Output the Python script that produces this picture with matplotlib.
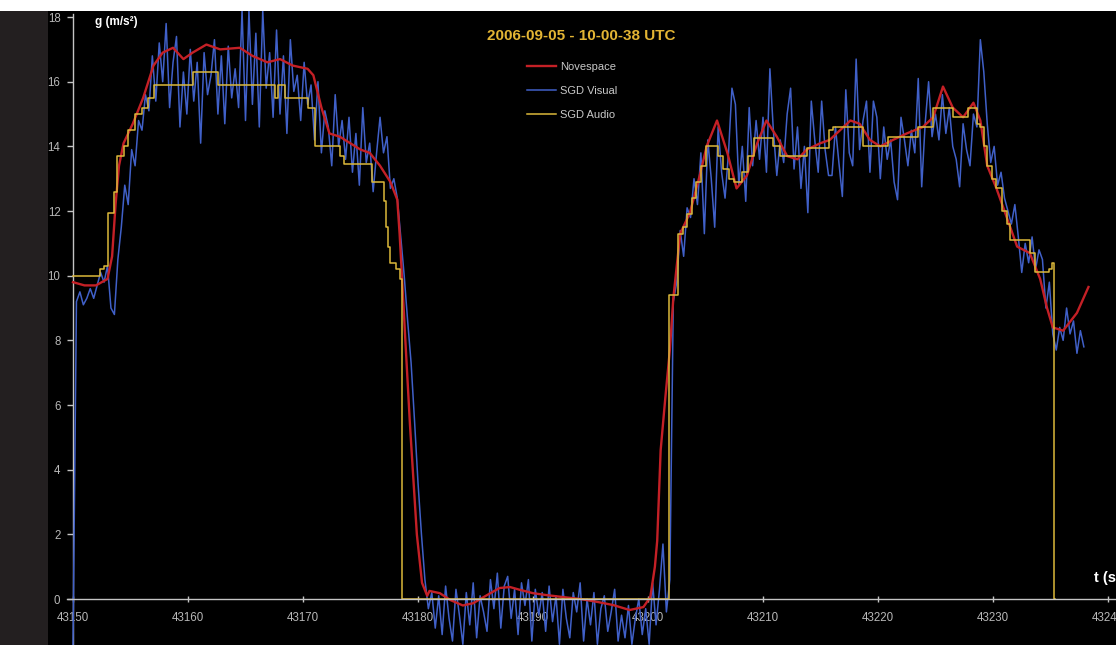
import numpy as np
import matplotlib
matplotlib.use("Agg")
import matplotlib.pyplot as plt
from matplotlib.patches import Rectangle

# ---------------- data ----------------
title_text = "2006-09-05 - 10-00-38 UTC"
series_names = ["Novespace", "SGD Visual", "SGD Audio"]
x_ticks = [43150, 43160, 43170, 43180, 43190, 43200, 43210, 43220, 43230, 43240]
y_ticks = [0, 2, 4, 6, 8, 10, 12, 14, 16, 18]

# Novespace (red)
nov_t = [43150.0, 43151.0, 43152.0, 43153.0, 43153.4, 43153.7, 43154.0, 43154.4, 43155.2, 43156.1,
         43157.0, 43157.8, 43158.7, 43159.6, 43160.4, 43161.6, 43162.8, 43164.5, 43165.6, 43166.9,
         43168.0, 43169.1, 43170.4, 43170.9, 43171.6, 43172.3, 43173.2, 43175.0, 43175.8, 43176.7,
         43177.6, 43178.2, 43178.4, 43178.6, 43178.9, 43179.3, 43179.9, 43180.35, 43180.8, 43181.0,
         43181.9, 43182.8, 43183.9, 43184.8, 43186.0, 43187.1, 43188.0, 43188.9, 43190.0, 43191.2,
         43192.6, 43194.1, 43195.6, 43197.0, 43198.4, 43199.6, 43200.2, 43200.6, 43200.8, 43201.1,
         43201.5, 43201.9, 43202.2, 43202.8, 43203.65, 43204.5, 43205.1, 43206.0, 43206.9, 43207.7,
         43208.6, 43209.5, 43210.3, 43211.2, 43212.1, 43213.0, 43213.8, 43215.0, 43215.8, 43216.7,
         43217.6, 43218.4, 43219.3, 43220.2, 43221.3, 43222.5, 43223.9, 43224.8, 43225.65, 43226.5,
         43227.4, 43228.3, 43228.9, 43229.5, 43230.3, 43231.2, 43232.1, 43233.2, 43234.1, 43234.7,
         43235.2, 43236.1, 43237.3, 43238.3]
nov_g = [9.8, 9.7, 9.7, 9.9, 10.6, 12.2, 13.4, 14.1, 14.7, 15.5,
         16.5, 16.9, 17.05, 16.7, 16.9, 17.15, 17.0, 17.05, 16.8, 16.6,
         16.7, 16.5, 16.4, 16.2, 15.2, 14.4, 14.3, 13.9, 13.8, 13.4,
         12.9, 12.35, 11.3, 10.0, 8.0, 5.4, 2.0, 0.5, 0.1, 0.25,
         0.18, -0.03, -0.2, -0.13, 0.12, 0.34, 0.37, 0.28, 0.18, 0.12,
         0.06, 0.0, -0.09, -0.19, -0.34, -0.25, 0.06, 1.0, 1.8, 4.6,
         6.2, 7.7, 9.3, 11.3, 11.95, 13.1, 14.0, 14.8, 13.8, 12.7,
         13.1, 14.1, 14.8, 14.3, 13.7, 13.6, 13.9, 14.1, 14.2, 14.5,
         14.8, 14.7, 14.2, 14.0, 14.2, 14.4, 14.6, 14.9, 15.85, 15.2,
         14.9, 15.35, 14.8, 13.4, 12.7, 11.8, 10.9, 10.7, 9.9, 9.0,
         8.4, 8.3, 8.85, 9.65]

# SGD Audio (yellow step series: time of each change, level after it)
aud_t = [43150.0, 43152.35, 43152.7, 43153.0, 43153.6, 43153.8, 43154.4, 43154.8, 43155.4, 43156.0,
         43156.5, 43157.0, 43160.4, 43162.6, 43167.6, 43167.8, 43168.4, 43170.4, 43171.0, 43173.2,
         43173.6, 43176.0, 43177.0, 43177.2, 43177.4, 43177.6, 43178.1, 43178.4, 43178.6, 43201.8,
         43202.6, 43203.0, 43203.4, 43203.8, 43204.2, 43204.6, 43205.0, 43206.1, 43206.5, 43207.0,
         43207.5, 43208.2, 43208.7, 43209.2, 43210.9, 43211.5, 43213.8, 43215.7, 43216.1, 43218.7,
         43220.9, 43223.5, 43224.8, 43226.5, 43227.8, 43228.6, 43228.9, 43229.2, 43229.5, 43229.9,
         43230.3, 43230.8, 43231.2, 43231.5, 43233.2, 43233.65, 43234.9, 43235.1, 43235.3, 43235.35]
aud_g = [10.0, 10.2, 10.3, 11.95, 12.6, 13.7, 14.0, 14.5, 15.0, 15.2,
         15.5, 15.9, 16.3, 15.9, 15.5, 15.9, 15.5, 15.2, 14.0, 13.7,
         13.45, 12.9, 12.3, 11.5, 10.9, 10.4, 10.2, 9.9, 0.0, 9.4,
         11.3, 11.5, 11.9, 12.4, 12.9, 13.4, 14.0, 13.7, 13.3, 13.0,
         12.9, 13.2, 13.7, 14.25, 14.0, 13.7, 13.95, 14.5, 14.6, 14.0,
         14.3, 14.6, 15.2, 14.9, 15.2, 14.7, 14.6, 14.0, 13.4, 13.0,
         12.7, 12.0, 11.6, 11.1, 10.7, 10.1, 10.2, 10.4, 0.0, 0.0]

# SGD Visual (blue, sampled every 0.3 s from 43150.0)
vis_t0 = 43150.0
vis_dt = 0.3
vis_g = [
    -1.4, 9.2, 9.5, 9.1, 9.3, 9.6, 9.3, 9.7, 10.1, 9.8,
    10.3, 9.0, 8.8, 10.5, 11.5, 12.8, 12.2, 13.9, 13.4, 14.8,
    14.5, 15.6, 15.1, 16.8, 15.4, 17.2, 16.0, 17.8, 15.2, 16.6,
    17.4, 14.6, 16.3, 15.0, 17.0, 15.4, 16.6, 14.1, 16.9, 15.6,
    16.2, 17.3, 15.0, 16.8, 14.7, 17.1, 15.5, 16.4, 15.2, 18.2,
    14.8, 18.2, 15.3, 17.5, 14.6, 18.2, 15.8, 16.9, 14.9, 17.6,
    15.0, 16.8, 14.4, 17.3, 15.7, 16.2, 14.8, 16.6, 15.3, 15.9,
    14.2, 16.0, 13.8, 15.1, 14.6, 13.4, 15.6, 14.0, 14.8, 13.6,
    14.9, 13.2, 14.4, 12.8, 15.2, 13.5, 14.1, 12.6, 13.8, 14.9,
    13.8, 14.3, 12.7, 13.0, 12.4, 11.2, 10.0, 8.6, 7.3, 5.5,
    3.6, 2.0, 0.6, -0.3, 0.2, -0.9, 0.1, -1.1, 0.4, -0.6,
    -1.3, 0.3, -0.5, -1.4, 0.2, -0.8, 0.5, -1.2, 0.1, -0.4,
    -1.0, 0.6, -0.3, 0.8, -0.9, 0.4, 0.7, -0.6, 0.3, -1.1,
    0.5, -0.2, 0.6, -1.3, 0.3, -0.5, 0.2, -1.0, 0.4, -0.7,
    0.1, -1.4, 0.3, -0.6, -1.2, 0.2, -0.4, 0.5, -1.3, 0.0,
    -0.8, 0.2, -1.4, -0.3, 0.1, -1.0, -0.4, 0.3, -1.3, -0.5,
    -1.2, -0.2, -1.4, -0.6, 0.0, -1.1, -0.3, -1.4, 0.5, -0.8,
    0.3, 1.7, -0.4, 0.6, 9.2, 9.8, 11.4, 10.6, 12.1, 11.8,
    13.0, 12.2, 13.8, 11.3, 14.2, 13.0, 11.5, 14.6, 13.2, 12.4,
    13.8, 15.8, 15.3, 12.8, 14.0, 12.3, 15.2, 13.4, 14.8, 13.6,
    14.9, 13.2, 16.4, 14.5, 13.1, 14.2, 13.5, 15.0, 15.8, 13.3,
    14.6, 12.7, 14.0, 11.95, 15.4, 14.2, 13.2, 15.4, 13.9, 13.1,
    13.1, 14.6, 13.5, 12.45, 15.75, 13.8, 13.4, 16.7, 13.9, 14.8,
    15.4, 13.2, 15.4, 14.9, 13.0, 14.6, 13.6, 14.2, 12.9, 12.35,
    14.9, 14.2, 13.4, 14.5, 13.8, 16.1, 12.75, 14.7, 16.0, 14.3,
    15.0, 14.2, 15.6, 14.4, 15.2, 14.0, 13.6, 12.75, 14.7, 13.9,
    13.4, 15.0, 14.6, 17.3, 16.3, 14.7, 13.5, 14.0, 12.8, 13.2,
    12.4, 12.0, 11.6, 12.2, 11.2, 10.1, 11.0, 10.4, 11.2, 10.2,
    10.8, 10.5, 9.0, 9.8, 8.2, 7.7, 8.4, 8.0, 9.0, 8.2,
    8.6, 7.6, 8.3, 7.8,
]

# ---------------- style / layout ----------------
W, H = 1116, 645
PX_PER_S = 11.5      # horizontal pixels per second
PX_PER_G = 32.33     # vertical pixels per m/s^2
X0_PX, Y0_PX = 73, 599   # pixel position of (43150, 0)
AX_L, AX_T = 48, 11      # black plot area left / top pixels

C_RED = "#c42026"
C_BLUE = "#4060c8"
C_YEL = "#dcb93a"
C_AXIS = "#c4c4c4"
C_TXT = "#b8b8b8"

plt.rcParams["font.family"] = ["Liberation Sans", "DejaVu Sans"]

fig = plt.figure(figsize=(W / 100, H / 100), dpi=100, facecolor="white")
fig.patches.append(Rectangle((0, 0), AX_L / W, (H - AX_T) / H, transform=fig.transFigure,
                             facecolor="#231f20", edgecolor="none", zorder=0))
ax = fig.add_axes([AX_L / W, 0, (W - AX_L) / W, (H - AX_T) / H])
ax.set_facecolor("black")

x_origin = x_ticks[0]
ax.set_xlim(x_origin - (X0_PX - AX_L) / PX_PER_S, x_origin + (W - X0_PX) / PX_PER_S)
ax.set_ylim(-(H - Y0_PX) / PX_PER_G, (Y0_PX - AX_T) / PX_PER_G)

vis_t = vis_t0 + vis_dt * np.arange(len(vis_g))

l_nov, = ax.plot(nov_t, nov_g, color=C_RED, lw=1.7, zorder=3, solid_joinstyle="round")
l_vis, = ax.plot(vis_t, vis_g, color=C_BLUE, lw=1.1, zorder=2.5)
l_aud, = ax.plot(aud_t, aud_g, color=C_YEL, lw=1.1, zorder=4, drawstyle="steps-post")

# axes
for s in ("top", "right"):
    ax.spines[s].set_visible(False)
ax.spines["left"].set_position(("data", x_origin))
ax.spines["bottom"].set_position(("data", 0))
ax.spines["left"].set_color(C_AXIS)
ax.spines["bottom"].set_color(C_AXIS)
ax.spines["left"].set_linewidth(1.0)
ax.spines["bottom"].set_linewidth(1.0)
ax.spines["left"].set_zorder(2)
ax.spines["bottom"].set_zorder(6)
ax.spines["bottom"].set_bounds(x_origin - 0.5, ax.get_xlim()[1])
ax.spines["left"].set_bounds(ax.get_ylim()[0], y_ticks[-1] + 0.1)

ax.set_xticks(x_ticks)
ax.set_yticks(y_ticks)
ax.set_xticklabels([str(v) for v in x_ticks])
ax.set_yticklabels([str(v) for v in y_ticks])
ax.tick_params(axis="x", direction="inout", length=5, width=1, color=C_AXIS,
               labelcolor=C_TXT, labelsize=8.3, pad=7)
ax.tick_params(axis="y", direction="out", length=4, width=1, color=C_AXIS,
               labelcolor=C_TXT, labelsize=8.3, pad=5)

# texts
fig.text(581 / W, 1 - 36 / H, title_text, color="#e3b534", fontsize=11, fontweight="bold",
         ha="center", va="center")
fig.text(95 / W, 1 - 22 / H, "g (m/s²)", color="white", fontsize=8.5, fontweight="bold",
         ha="left", va="center")
fig.text(1094 / W, 1 - 578 / H, "t (s)", color="white", fontsize=10.5, fontweight="bold",
         ha="left", va="center")

leg = ax.legend([l_nov, l_vis, l_aud], series_names, loc="upper left",
                bbox_to_anchor=(527 / W, 1 - 62 / H), bbox_transform=fig.transFigure,
                frameon=False, fontsize=8, labelcolor="#c8c8c8", handlelength=2.6,
                handletextpad=0.4, labelspacing=1.25, borderpad=0, borderaxespad=0)

fig.savefig("out.png", dpi=100, facecolor=fig.get_facecolor())
